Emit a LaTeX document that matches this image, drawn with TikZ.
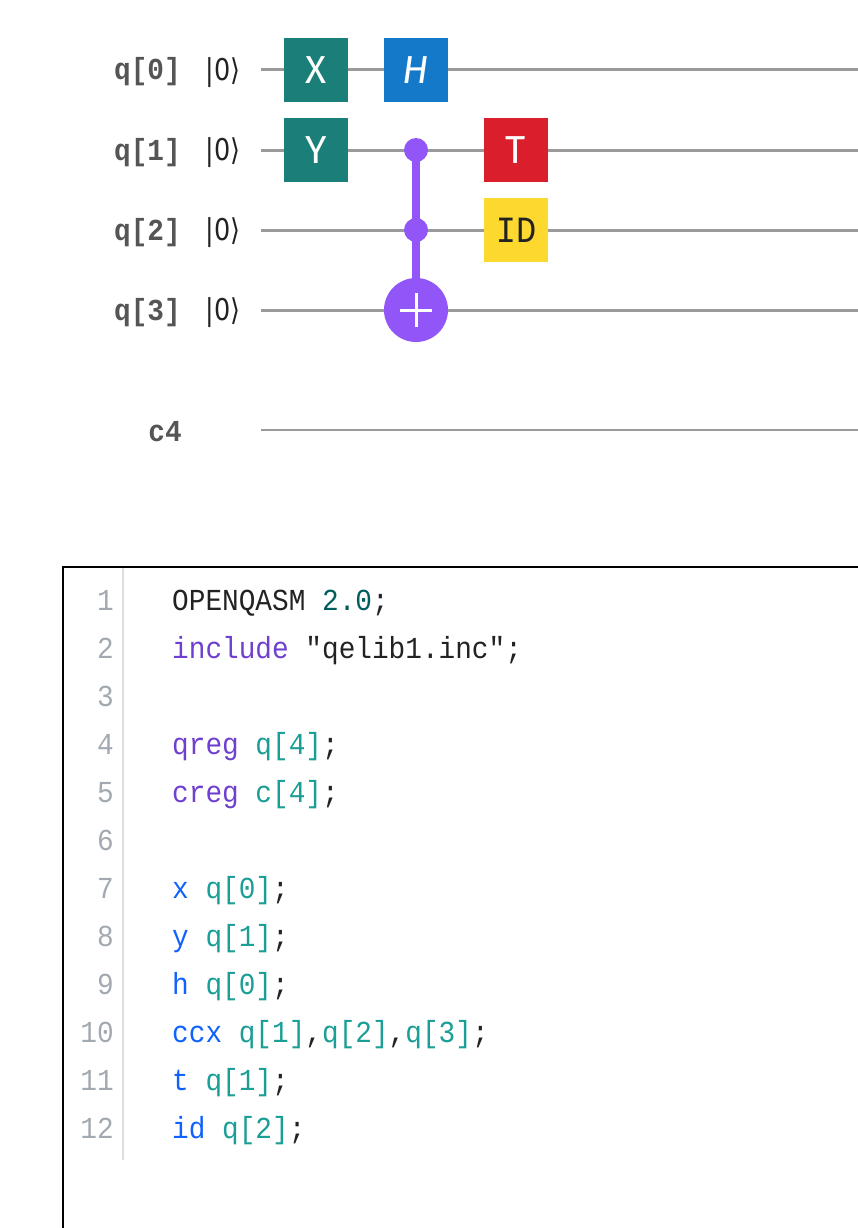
\documentclass[tikz,border=0pt]{standalone}
\usepackage{fontspec}
\usepackage{graphicx}
\usepackage{tikz}
\usetikzlibrary{positioning,calc}
\setmainfont{Fira Sans}
\newfontfamily\codefont[FakeStretch=0.91]{Liberation Mono}
\newfontfamily\ketfont{DejaVu Sans}

\definecolor{wiregray}{HTML}{9A9A9A}
\definecolor{labelgray}{HTML}{555555}
\definecolor{gutterline}{HTML}{DDDDDD}
\definecolor{linenum}{HTML}{A2A9B0}
\definecolor{gateteal}{HTML}{1B7F79}
\definecolor{gateblue}{HTML}{1579CA}
\definecolor{gatered}{HTML}{DA1E2C}
\definecolor{gateyellow}{HTML}{FDD82F}
\definecolor{gatepurple}{HTML}{9256F8}
\definecolor{codeink}{HTML}{222222}
\definecolor{kwpurple}{HTML}{6F3FCF}
\definecolor{kwblue}{HTML}{0F62FE}
\definecolor{regteal}{HTML}{1A9E96}
\definecolor{numteal}{HTML}{005D5D}

\newcommand{\kwp}[1]{\textcolor{kwpurple}{#1}}
\newcommand{\kwb}[1]{\textcolor{kwblue}{#1}}
\newcommand{\reg}[1]{\textcolor{regteal}{#1}}
\newcommand{\ketzero}{\scalebox{.85}[1]{|0\char"27E9}}

\tikzset{
	gate/.style={minimum size=64pt, inner sep=0pt, text=white, font=\fontsize{39}{39}\selectfont},
	ctrl/.style={circle, fill=gatepurple, minimum size=24pt, inner sep=0pt},
	target/.style={circle, fill=gatepurple, minimum size=64pt, inner sep=0pt},
	wire/.style={wiregray, line width=3pt},
	qlabel/.style={anchor=base east, inner sep=0pt, text=labelgray, font=\codefont\bfseries\fontsize{30.5}{32}\selectfont},
	ket/.style={text=codeink, inner sep=0pt, font=\ketfont\fontsize{30}{32}\selectfont},
	lineno/.style={anchor=base east, inner sep=0pt, text=linenum, font=\codefont\fontsize{30.5}{32}\selectfont},
	codeline/.style={anchor=base west, inner sep=0pt, text=codeink, font=\codefont\fontsize{30.5}{32}\selectfont}
}

\begin{document}
\begin{tikzpicture}[x=1pt,y=-1pt]
	\useasboundingbox (0,0) rectangle (858,1228);
	% wires
	\foreach \i/\y in {0/70,1/150,2/230,3/310} {
		\coordinate (in\i) at (261,\y);
		\coordinate (out\i) at (858,\y);
		\draw[wire] (in\i) -- (out\i);
		\node[qlabel] (label\i) at (181,\y+10) {q[\i]};
		\node[ket] (ket\i) at (223,\y+3) {\ketzero};
	}
	\coordinate (cin) at (261,430);
	\coordinate (cout) at (858,430);
	\draw[wiregray, line width=2pt] (cin) -- (cout);
	\node[qlabel] (clabel) at (182,441) {c4};

	% gates
	\node[gate, fill=gateteal] (xgate) at (316,70) {X};
	\node[gate, fill=gateblue] (hgate) at (416,70) {\itshape H};
	\node[gate, fill=gateteal] (ygate) at (316,150) {Y};
	\node[gate, fill=gatered] (tgate) at (516,150) {T};
	\node[gate, fill=gateyellow, text=codeink, font=\codefont\fontsize{37}{37}\selectfont] (idgate) at (516,230) {ID};
	\node[ctrl] (ctrla) at (416,150) {};
	\node[ctrl] (ctrlb) at (416,230) {};
	\node[target] (targ) at (416,310) {};
	\draw[gatepurple, line width=8pt] (ctrla.center) -- (ctrlb.center) -- (targ.north);
	\draw[white, line width=3pt] ($(targ.center)+(-16,0)$) -- ($(targ.center)+(16,0)$);
	\draw[white, line width=3pt] ($(targ.center)+(0,-17)$) -- ($(targ.center)+(0,17)$);

	% editor
	\coordinate (framebl) at (63,1228);
	\coordinate (frametl) at (63,567);
	\coordinate (frametr) at (858,567);
	\draw[black, line width=2pt] (framebl) -- (frametl) -- (frametr);
	\coordinate (guttertop) at (123,568);
	\coordinate (gutterbot) at (123,1160);
	\draw[gutterline, line width=2pt] (guttertop) -- (gutterbot);
	\foreach \n in {1,...,12} {
		\node[lineno] (num\n) at (114,562+48*\n) {\n};
	}
	\foreach \n/\txt in {
		1/{OPENQASM \textcolor{numteal}{2.0};},
		2/{\kwp{include} "qelib1.inc";},
		4/{\kwp{qreg} \reg{q[4]};},
		5/{\kwp{creg} \reg{c[4]};},
		7/{\kwb{x} \reg{q[0]};},
		8/{\kwb{y} \reg{q[1]};},
		9/{\kwb{h} \reg{q[0]};},
		10/{\kwb{ccx} \reg{q[1]},\reg{q[2]},\reg{q[3]};},
		11/{\kwb{t} \reg{q[1]};},
		12/{\kwb{id} \reg{q[2]};}} {
		\node[codeline] (code\n) at (172,562+48*\n) {\txt};
	}
\end{tikzpicture}
\end{document}
